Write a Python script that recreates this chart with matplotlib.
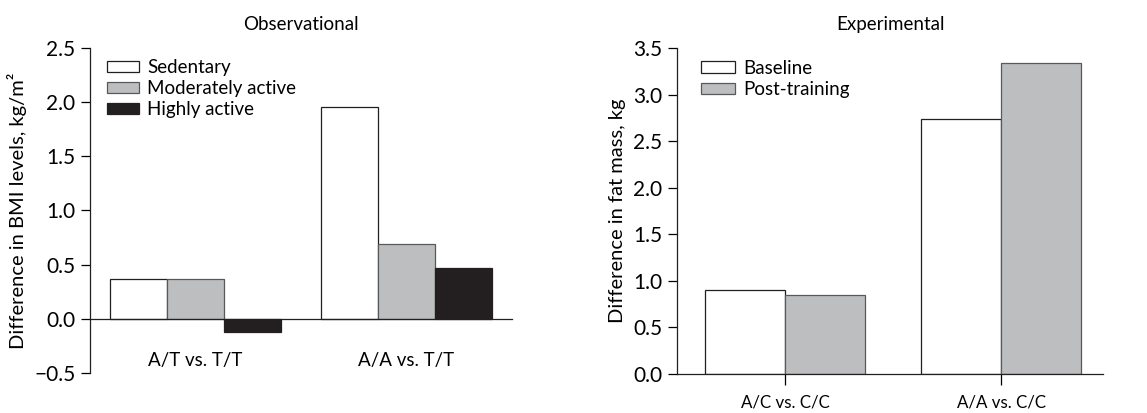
import matplotlib
matplotlib.use('Agg')
import matplotlib.pyplot as plt
import numpy as np

plt.rcParams['font.family'] = ['Lato', 'DejaVu Sans']
plt.rcParams['font.size'] = 13.5

# observational panel
obs_groups = ['A/T vs. T/T', 'A/A vs. T/T']
obs_series = ['Sedentary', 'Moderately active', 'Highly active']
obs_sedentary = [0.37, 1.95]
obs_moderate = [0.37, 0.69]
obs_high = [-0.12, 0.47]

# experimental panel
exp_groups = ['A/C vs. C/C', 'A/A vs. C/C']
exp_series = ['Baseline', 'Post-training']
exp_baseline = [0.90, 2.74]
exp_post = [0.85, 3.34]

white = '#ffffff'
gray = '#bcbec0'
black = '#231f20'
edge = '#231f20'
gray_edge = '#58595b'

fig = plt.figure(figsize=(11.47, 4.13), dpi=100)

ax1 = fig.add_axes([90/1147, 39.7/413, 422/1147, 325.6/413])
ax2 = fig.add_axes([677/1147, 39/413, 426/1147, 325.7/413])

# left
x = np.arange(len(obs_groups))
w = 0.27
ax1.bar(x - w, obs_sedentary, w, color=white, edgecolor=edge, linewidth=0.9, label=obs_series[0])
ax1.bar(x, obs_moderate, w, color=gray, edgecolor=gray_edge, linewidth=0.9, label=obs_series[1])
ax1.bar(x + w, obs_high, w, color=black, edgecolor=black, linewidth=0.9, label=obs_series[2])
ax1.set_xlim(-0.5, 1.5)
ax1.set_ylim(-0.5, 2.5)
ax1.set_yticks([-0.5, 0.0, 0.5, 1.0, 1.5, 2.0, 2.5])
ax1.set_yticklabels(['\u22120.5', '0.0', '0.5', '1.0', '1.5', '2.0', '2.5'], fontsize=15)
ax1.set_xticks(x)
ax1.set_xticklabels(obs_groups, fontsize=12.2)
ax1.spines['top'].set_visible(False)
ax1.spines['right'].set_visible(False)
ax1.spines['bottom'].set_position(('data', 0))
ax1.tick_params(axis='x', length=0, pad=24)
ax1.tick_params(axis='y', direction='out', length=6.5, width=0.9, pad=4)
for s in ['left', 'bottom']:
    ax1.spines[s].set_linewidth(0.9)
    ax1.spines[s].set_color(edge)
ax1.set_ylabel('Difference in BMI levels, kg/m\u00b2', fontsize=14.5, labelpad=5)
ax1.set_title('Observational', fontsize=13.5, pad=13)
ax1.legend(loc='upper left', bbox_to_anchor=(0.04, 0.965), frameon=False,
           borderpad=0, borderaxespad=0, handlelength=1.7, handleheight=0.55,
           labelspacing=0.22, handletextpad=0.45)

# right
x2 = np.arange(len(exp_groups))
w2 = 0.37
ax2.bar(x2 - w2/2, exp_baseline, w2, color=white, edgecolor=edge, linewidth=0.9, label=exp_series[0])
ax2.bar(x2 + w2/2, exp_post, w2, color=gray, edgecolor=gray_edge, linewidth=0.9, label=exp_series[1])
ax2.set_xlim(-0.5, 1.47)
ax2.set_ylim(0, 3.5)
ax2.set_yticks([0.0, 0.5, 1.0, 1.5, 2.0, 2.5, 3.0, 3.5])
ax2.set_yticklabels(['0.0', '0.5', '1.0', '1.5', '2.0', '2.5', '3.0', '3.5'], fontsize=15)
ax2.set_xticks(x2)
ax2.set_xticklabels(exp_groups, fontsize=12.2)
ax2.spines['top'].set_visible(False)
ax2.spines['right'].set_visible(False)
ax2.tick_params(axis='x', direction='out', length=8, width=0.9, pad=7)
ax2.tick_params(axis='y', direction='out', length=6.5, width=0.9, pad=4)
for s in ['left', 'bottom']:
    ax2.spines[s].set_linewidth(0.9)
    ax2.spines[s].set_color(edge)
ax2.set_ylabel('Difference in fat mass, kg', fontsize=14.5, labelpad=5)
ax2.set_title('Experimental', fontsize=13.5, pad=13)
ax2.legend(loc='upper left', bbox_to_anchor=(0.056, 0.965), frameon=False,
           borderpad=0, borderaxespad=0, handlelength=1.8, handleheight=0.55,
           labelspacing=0.22, handletextpad=0.45)

fig.savefig('out.png', dpi=100)
